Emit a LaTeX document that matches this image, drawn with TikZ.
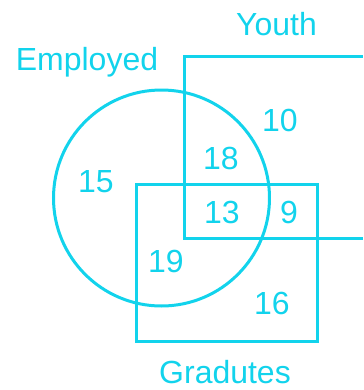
\documentclass[tikz,border=0pt]{standalone}
\usepackage{fontspec}
\setmainfont{Liberation Sans}
\usetikzlibrary{positioning}
\definecolor{venncyan}{HTML}{12D3EC}

\begin{document}
\begin{tikzpicture}[
    x=0.02cm, y=-0.02cm,
    setline/.style={draw=venncyan, line width=0.06cm},
    setlabel/.style={anchor=base, inner sep=0pt, text=venncyan, font=\fontsize{18.2}{22}\selectfont},
    count/.style={inner sep=0pt, text=venncyan, font=\fontsize{18.2}{22}\selectfont}
]
    \useasboundingbox (0,0) rectangle (363,390);

    % --- SET OUTLINES ---
    \draw[setline] (161.5,198) circle[radius=108];
    \draw[setline] (363,56) -| (185,238) -- (363,238);
    \draw[setline] (137,184) rectangle (318,341);

    % --- SET NAMES ---
    \node[setlabel] (youth) at (276.5,35) {Youth};
    \node[setlabel] (employed) at (87,70) {Employed};
    \node[setlabel] (gradutes) at (225,383) {Gradutes};

    % --- REGION COUNTS ---
    \node[count] (n15) at (96,182) {15};
    \node[count] (n10) at (280,120) {10};
    \node[count] (n18) at (221,158) {18};
    \node[count] (n13) at (222,212) {13};
    \node[count] (n9) at (289,212) {9};
    \node[count] (n19) at (166,261) {19};
    \node[count] (n16) at (272,303) {16};
\end{tikzpicture}
\end{document}
